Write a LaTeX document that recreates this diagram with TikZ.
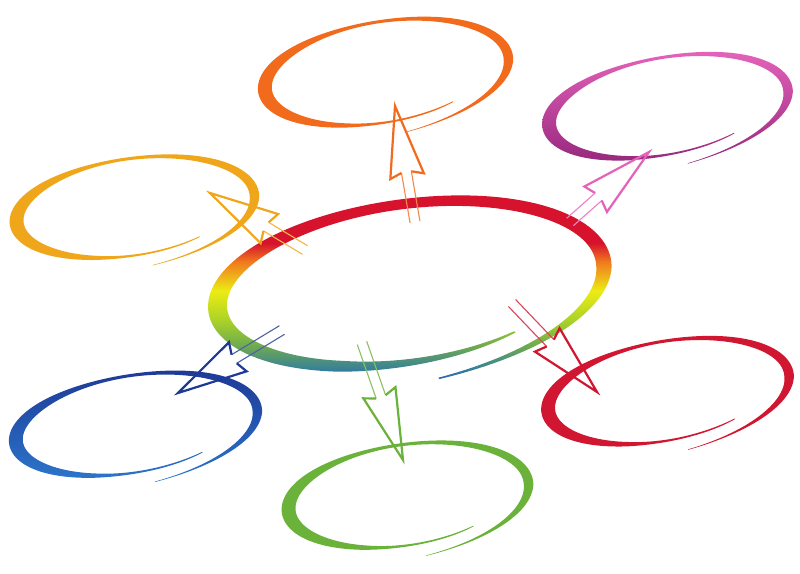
\documentclass[tikz,border=0pt]{standalone}
\definecolor{orangeink}{RGB}{242,106,28}
\definecolor{pinkink}{RGB}{228,98,186}
\definecolor{purpleink}{RGB}{150,40,125}
\definecolor{amberink}{RGB}{240,166,26}
\definecolor{navyink}{RGB}{30,58,150}
\definecolor{blueink}{RGB}{44,118,204}
\definecolor{greenink}{RGB}{106,178,58}
\definecolor{redink}{RGB}{208,22,48}
\definecolor{ringred}{RGB}{214,18,44}
\definecolor{ringorange}{RGB}{240,120,30}
\definecolor{ringyellow}{RGB}{236,236,20}
\definecolor{ringlime}{RGB}{170,210,40}
\definecolor{ringgreen}{RGB}{110,170,80}
\definecolor{ringteal}{RGB}{58,130,150}
\definecolor{ringblue}{RGB}{40,100,180}
\usetikzlibrary{calc}
\pgfdeclareverticalshading{ringmix}{100bp}{color(0bp)=(ringblue); color(25bp)=(ringblue); color(28bp)=(ringteal); color(34bp)=(ringgreen); color(41bp)=(ringlime); color(49bp)=(ringyellow); color(57bp)=(ringorange); color(62bp)=(ringred); color(100bp)=(ringred)}
\tikzset{
    declare function={
        rt(\p)=305-390*\p;
        rs(\p)=1-0.06*(1-\p)^6+0.22*\p^6;
        rtaper(\p)=0.15+0.85*min(1,\p/0.15)*min(1,(1-\p)/0.2);
        rw(\p,\wa,\wb)=(\wa+(\wb-\wa)*cos(rt(\p))*cos(rt(\p))*(0.8-0.2*cos(rt(\p))))*rtaper(\p);
    },
    headline/.style={draw=#1, line width=2.2pt, line join=miter, miter limit=20},
    shaftline/.style={draw=#1!80, line width=1.1pt}
}
% brush ring: name, a, b, rotation, thin width, thick width, paint
\newcommand{\brushring}[7]{%
  \path[#7, shift={(#1)}, rotate=#4]
    plot[domain=0:1, samples=160, variable=\p]
      ({(#2*rs(\p)+0.5*rw(\p,#5,#6))*cos(rt(\p))},{(#3*rs(\p)+0.5*rw(\p,#5,#6))*sin(rt(\p))})
    -- plot[domain=1:0, samples=160, variable=\p]
      ({(#2*rs(\p)-0.5*rw(\p,#5,#6))*cos(rt(\p))},{(#3*rs(\p)-0.5*rw(\p,#5,#6))*sin(rt(\p))})
    -- cycle;
}
% hollow arrow: from, to, head fraction, colour
\newcommand{\brusharrow}[4]{%
  \coordinate (#1-h) at ($(#1)!#3!(#2)$);
  \coordinate (#1-b) at ($(#1)!#3-0.035!(#2)$);
  \draw[shaftline=#4] ($(#1)!5pt!90:(#2)$) -- ($(#1-h)!5pt!90:(#2)$);
  \draw[shaftline=#4] ($(#1)!5pt!-90:(#2)$) -- ($(#1-h)!5pt!-90:(#2)$);
  \draw[headline=#4] ($(#1-h)!5pt!90:(#2)$) -- ($(#1-b)!17pt!90:(#2)$) -- (#2)
    -- ($(#1-b)!17pt!-90:(#2)$) -- ($(#1-h)!5pt!-90:(#2)$);
}
\begin{document}
\begin{tikzpicture}[x=1pt, y=1pt]
  \useasboundingbox (0,0) rectangle (800,573);
  \fill[white] (0,0) rectangle (800,573);

  \coordinate (hub) at (405,288);
  \coordinate (top) at (383,500);
  \coordinate (topright) at (665,466);
  \coordinate (left) at (132,365);
  \coordinate (botleft) at (133,148);
  \coordinate (bottom) at (405,77);
  \coordinate (right) at (665,181);

  \brushring{hub}{190}{80}{8}{10}{19}{shade, shading=ringmix}
  \brushring{top}{120}{51}{9}{3}{14}{fill=orangeink}
  \brushring{topright}{118}{49}{10}{3}{14}{top color=pinkink, bottom color=purpleink}
  \brushring{left}{117}{49}{8}{3}{14}{fill=amberink}
  \brushring{botleft}{119}{49}{9}{3}{14}{top color=navyink, bottom color=blueink}
  \brushring{bottom}{118}{51}{8}{3}{14}{fill=greenink}
  \brushring{right}{119}{50}{10}{3}{14}{fill=redink}

  \coordinate (top-from) at (415,351);
  \coordinate (top-to) at (395,467);
  \coordinate (topright-from) at (570,351);
  \coordinate (topright-to) at (649,421);
  \coordinate (left-from) at (305,323);
  \coordinate (left-to) at (210,380);
  \coordinate (botleft-from) at (282,243);
  \coordinate (botleft-to) at (178,180);
  \coordinate (bottom-from) at (362,230);
  \coordinate (bottom-to) at (403,113);
  \coordinate (right-from) at (512,270);
  \coordinate (right-to) at (597,181);

  \brusharrow{top-from}{top-to}{0.43}{orangeink}
  \brusharrow{topright-from}{topright-to}{0.36}{pinkink}
  \brusharrow{left-from}{left-to}{0.41}{amberink}
  \brusharrow{botleft-from}{botleft-to}{0.46}{navyink}
  \brusharrow{bottom-from}{bottom-to}{0.46}{greenink}
  \brusharrow{right-from}{right-to}{0.45}{redink}
\end{tikzpicture}
\end{document}
